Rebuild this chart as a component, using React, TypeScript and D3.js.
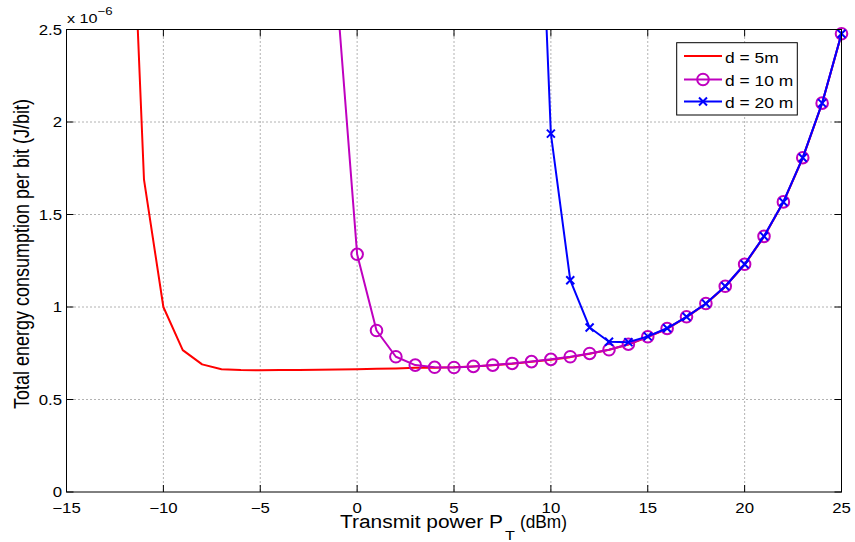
import React from "react";
import * as d3 from "d3";

const W = 855;
const H = 542;

const xTicks = [-15, -10, -5, 0, 5, 10, 15, 20, 25];
const yTicks = [0, 0.5, 1, 1.5, 2, 2.5];
const yTickLabels = ["0", "0.5", "1", "1.5", "2", "2.5"];

const x5 = [-12, -11, -10, -9, -8, -7, -6, -5, -4, -3, -2, -1, 0, 1, 2, 3, 4, 5, 6, 7, 8, 9, 10, 11, 12, 13, 14, 15, 16, 17, 18, 19, 20, 21, 22, 23, 24, 25];
const y5 = [4.22, 1.688, 1.0, 0.767, 0.69, 0.664, 0.659, 0.658, 0.659, 0.66, 0.661, 0.662, 0.664, 0.666, 0.668, 0.671, 0.672, 0.674, 0.679, 0.685, 0.693, 0.704, 0.715, 0.729, 0.747, 0.769, 0.797, 0.837, 0.882, 0.945, 1.017, 1.11, 1.229, 1.38, 1.566, 1.805, 2.1, 2.475];

const x10 = [-1, 0, 1, 2, 3, 4, 5, 6, 7, 8, 9, 10, 11, 12, 13, 14, 15, 16, 17, 18, 19, 20, 21, 22, 23, 24, 25];
const y10 = [2.635, 1.285, 0.873, 0.731, 0.686, 0.674, 0.673, 0.679, 0.686, 0.695, 0.705, 0.717, 0.731, 0.749, 0.769, 0.799, 0.839, 0.884, 0.947, 1.019, 1.112, 1.231, 1.382, 1.568, 1.807, 2.102, 2.477];

const x20 = [9, 10, 11, 12, 13, 14, 15, 16, 17, 18, 19, 20, 21, 22, 23, 24, 25];
const y20 = [4.5, 1.937, 1.145, 0.889, 0.812, 0.81, 0.841, 0.885, 0.947, 1.019, 1.112, 1.231, 1.382, 1.568, 1.807, 2.102, 2.477];

const legendLabels = ["d = 5m", "d = 10 m", "d = 20 m"];
const RED = "#ff0000";
const MAG = "#bf00bf";
const BLUE = "#0000ff";

const L = 66.5, R = 841.5, T = 29.5, B = 492;
const SX = 1.2;
const FONT = "'Liberation Sans', Arial, Helvetica, sans-serif";

export default function App() {
  const x = d3.scaleLinear().domain([-15, 25]).range([L, R]);
  const y = d3.scaleLinear().domain([0, 2.5]).range([B, T]);
  const line = d3.line<[number, number]>().x((d) => x(d[0])).y((d) => y(d[1]));
  const zip = (xs: number[], ys: number[]) => xs.map((v, i) => [v, ys[i]] as [number, number]);
  const d5 = zip(x5, y5);
  const d10 = zip(x10, y10);
  const d20 = zip(x20, y20);
  const inRange = (d: [number, number]) => d[0] >= -15 && d[0] <= 25 && d[1] >= 0 && d[1] <= 2.5;

  const cross = (cx: number, cy: number, s: number, key: any) => (
    <path key={key} d={`M${cx - s},${cy - s}L${cx + s},${cy + s}M${cx - s},${cy + s}L${cx + s},${cy - s}`} stroke={BLUE} strokeWidth={2} fill="none" />
  );

  const txt = (tx: number, ty: number, content: any, opts: any = {}) => (
    <g transform={`translate(${tx},${ty}) scale(${SX},1)`}>
      <text x={0} y={0} fontFamily={FONT} fontSize={opts.size || 14} textAnchor={opts.anchor || "start"} fill="#000">
        {content}
      </text>
    </g>
  );

  const legX0 = 684, legX1 = 722, legTx = 725;
  const legRows = [56, 79.5, 101.5];

  return (
    <div style={{ position: "absolute", left: 0, top: 0 }}>
      <svg width={W} height={H} xmlns="http://www.w3.org/2000/svg" style={{ display: "block", background: "#fff" }}>
        <defs>
          <clipPath id="plotclip">
            <rect x={L} y={T} width={R - L} height={B - T} />
          </clipPath>
        </defs>
        <rect x={0} y={0} width={W} height={H} fill="#fff" />
        {/* grid */}
        {xTicks.filter((t) => t > -15 && t < 25).map((t) => (
          <line key={"gx" + t} x1={x(t)} x2={x(t)} y1={T} y2={B} stroke="#666" strokeWidth={1} strokeDasharray="1 3" />
        ))}
        {yTicks.filter((t) => t > 0 && t < 2.5).map((t) => (
          <line key={"gy" + t} x1={L} x2={R} y1={y(t)} y2={y(t)} stroke="#666" strokeWidth={1} strokeDasharray="1 3" />
        ))}
        {/* ticks */}
        {xTicks.map((t) => (
          <g key={"tx" + t}>
            <line x1={x(t)} x2={x(t)} y1={B} y2={B - 7} stroke="#000" />
            <line x1={x(t)} x2={x(t)} y1={T} y2={T + 7} stroke="#000" />
          </g>
        ))}
        {yTicks.map((t) => (
          <g key={"ty" + t}>
            <line x1={L} x2={L + 7} y1={y(t)} y2={y(t)} stroke="#000" />
            <line x1={R} x2={R - 7} y1={y(t)} y2={y(t)} stroke="#000" />
          </g>
        ))}
        {/* data lines */}
        <g clipPath="url(#plotclip)" fill="none" strokeLinejoin="round">
          <path d={line(d5) || ""} stroke={RED} strokeWidth={2} />
          <path d={line(d10) || ""} stroke={MAG} strokeWidth={2} />
        </g>
        {d10.filter(inRange).map((d, i) => (
          <circle key={"c" + i} cx={x(d[0])} cy={y(d[1])} r={5.8} fill="none" stroke={MAG} strokeWidth={2} />
        ))}
        <g clipPath="url(#plotclip)" fill="none" strokeLinejoin="round">
          <path d={line(d20) || ""} stroke={BLUE} strokeWidth={2} />
        </g>
        {d20.filter(inRange).map((d, i) => cross(x(d[0]), y(d[1]), 4, "x" + i))}
        {/* axes box */}
        <rect x={L} y={T} width={R - L} height={B - T} fill="none" stroke="#000" strokeWidth={1} />
        {/* tick labels */}
        {xTicks.map((t) => (
          <g key={"lx" + t}>{txt(x(t), 513, t < 0 ? "\u2212" + Math.abs(t) : String(t), { anchor: "middle" })}</g>
        ))}
        {yTicks.map((t, i) => (
          <g key={"ly" + t}>{txt(62, y(t) + 5, yTickLabels[i], { anchor: "end" })}</g>
        ))}
        {/* exponent */}
        {txt(67, 23.3, "x 10", { size: 13.5 })}
        {txt(97.5, 15, "\u22126", { size: 11 })}
        {/* axis labels */}
        <text x={340} y={528.3} fontFamily={FONT} fontSize={18} textLength={163} lengthAdjust="spacingAndGlyphs" fill="#000">Transmit power P</text>
        {txt(505, 539.5, "T", { size: 13.5 })}
        <text x={520} y={528.3} fontFamily={FONT} fontSize={18} textLength={47} lengthAdjust="spacingAndGlyphs" fill="#000">(dBm)</text>
        <g transform={`translate(28.5,254) scale(${SX},1) rotate(-90)`}>
          <text x={0} y={0} fontFamily={FONT} fontSize={18} textAnchor="middle" fill="#000">
            Total energy consumption per bit (J/bit)
          </text>
        </g>
        {/* legend */}
        <rect x={676.7} y={42.7} width={120.6} height={72.3} fill="#fff" stroke="#000" strokeWidth={1} />
        <line x1={legX0} x2={legX1} y1={legRows[0]} y2={legRows[0]} stroke={RED} strokeWidth={2} />
        <line x1={legX0} x2={legX1} y1={legRows[1]} y2={legRows[1]} stroke={MAG} strokeWidth={2} />
        <circle cx={(legX0 + legX1) / 2} cy={legRows[1]} r={5.8} fill="none" stroke={MAG} strokeWidth={2} />
        <line x1={legX0} x2={legX1} y1={legRows[2]} y2={legRows[2]} stroke={BLUE} strokeWidth={2} />
        {cross((legX0 + legX1) / 2, legRows[2], 4, "lx")}
        {legendLabels.map((s, i) => (
          <g key={"lg" + i}>{txt(legTx, legRows[i] + 6.5, s, { size: 14.5 })}</g>
        ))}
      </svg>
    </div>
  );
}
